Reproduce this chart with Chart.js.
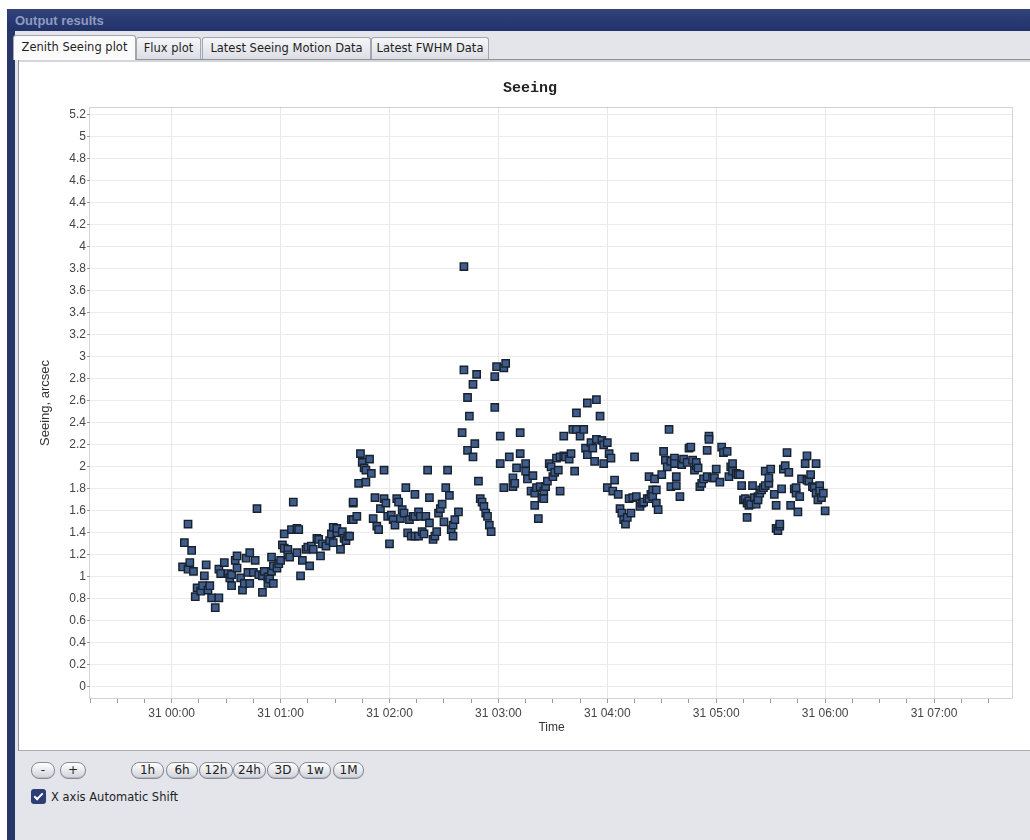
<!DOCTYPE html>
<html>
<head>
<meta charset="utf-8">
<title>Output results</title>
<script src="https://cdn.jsdelivr.net/npm/chart.js@4.4.0/dist/chart.umd.min.js"></script>
<style>
  html, body { margin: 0; padding: 0; width: 1030px; height: 840px; overflow: hidden; background: #ffffff; font-family: 'DejaVu Sans', sans-serif; }
  #frame { position: absolute; left: 7px; top: 9px; width: 1023px; height: 831px; background: #27376a; }
  #titlebar { position: absolute; left: 7px; top: 9px; width: 1023px; height: 22px; background: linear-gradient(#31437a, #22326a); }
  #caption { position: absolute; left: 15px; top: 13px; font: bold 13px 'Liberation Sans', sans-serif; color: #8f9bbf; }
  #inner { position: absolute; left: 15px; top: 31px; width: 1015px; height: 809px; background: #e3e5eb; }
  .tab { position: absolute; top: 37px; height: 21px; border: 1px solid #a3a6ae; border-bottom: none; border-radius: 3px 3px 0 0; background: linear-gradient(#f5f6f9, #dcdee5); font-size: 11.5px; line-height: 21px; text-align: center; color: #1e1e1e; white-space: nowrap; }
  .tab.active { top: 35px; height: 24px; line-height: 23px; background: #fbfbfc; z-index: 2; }
  #panel { position: absolute; left: 18px; top: 59px; width: 1012px; height: 690px; background: #ffffff; border-top: 1px solid #8e9199; border-left: 1px solid #8e9199; border-bottom: 1px solid #a9acb3; box-shadow: inset 0 2px 0 #d4d6dc; }
  #chart { position: absolute; left: 20px; top: 62px; z-index: 3; }
  .btn { position: absolute; top: 762px; height: 15px; border: 1px solid #878a93; border-radius: 8px; background: linear-gradient(#ffffff, #cfd2d9); box-shadow: inset 0 -1px 0 #b9bcc4; font-size: 12px; line-height: 15px; text-align: center; color: #222; }
  #check { position: absolute; left: 31px; top: 789px; width: 15px; height: 15px; background: #2c3e74; border-radius: 3px; }
  #check::after { content: ''; position: absolute; left: 5px; top: 2px; width: 3px; height: 7px; border: solid #ffffff; border-width: 0 2px 2px 0; transform: rotate(45deg); }
  #checkLabel { position: absolute; left: 51px; top: 789px; font-size: 11.5px; line-height: 16px; color: #1e1e1e; }
</style>
</head>
<body>
<div id="frame"></div>
<div id="titlebar"></div>
<div id="caption">Output results</div>
<div id="inner"></div>
<div class="tab active" style="left:13px;width:121px;">Zenith Seeing plot</div>
<div class="tab" style="left:136px;width:63px;">Flux plot</div>
<div class="tab" style="left:202px;width:167px;">Latest Seeing Motion Data</div>
<div class="tab" style="left:371px;width:116px;">Latest FWHM Data</div>
<div id="panel"></div>
<canvas id="chart" width="1020" height="686"></canvas>

<div class="btn" style="left:31px;width:22px;">-</div>
<div class="btn" style="left:60px;width:24px;">+</div>
<div class="btn" style="left:131px;width:31px;">1h</div>
<div class="btn" style="left:166px;width:30px;">6h</div>
<div class="btn" style="left:199px;width:32px;">12h</div>
<div class="btn" style="left:233px;width:31px;">24h</div>
<div class="btn" style="left:267px;width:30px;">3D</div>
<div class="btn" style="left:299px;width:30px;">1w</div>
<div class="btn" style="left:333px;width:29px;">1M</div>
<div id="check"></div>
<div id="checkLabel">X axis Automatic Shift</div>

<script>
// Day shown in front of every time tick
const dayOfMonth = '31';

// Hour tick labels along the time axis
const hourTicks = ['00:00', '01:00', '02:00', '03:00', '04:00', '05:00', '06:00', '07:00'];

// Seeing tick values (arcsec)
const seeingTicks = [0, 0.2, 0.4, 0.6, 0.8, 1, 1.2, 1.4, 1.6, 1.8, 2, 2.2, 2.4, 2.6, 2.8, 3, 3.2, 3.4, 3.6, 3.8, 4, 4.2, 4.4, 4.6, 4.8, 5, 5.2];

// Sample times (HH:MM on the 31st)
const sampleTimes = [
  '00:06','00:07','00:09','00:09','00:10','00:11','00:12','00:13','00:14','00:16',
  '00:17','00:18','00:19','00:20','00:21','00:22','00:24','00:26','00:26','00:27',
  '00:29','00:31','00:32','00:33','00:33','00:35','00:36','00:36','00:38','00:39',
  '00:40','00:41','00:42','00:43','00:43','00:45','00:46','00:47','00:48','00:50',
  '00:50','00:51','00:53','00:53','00:54','00:55','00:55','00:56','00:56','00:58',
  '00:59','01:00','01:01','01:02','01:02','01:04','01:04','01:05','01:06','01:07',
  '01:09','01:09','01:10','01:11','01:12','01:14','01:15','01:16','01:17','01:18',
  '01:20','01:21','01:22','01:23','01:25','01:27','01:28','01:29','01:29','01:31',
  '01:31','01:33','01:34','01:35','01:36','01:37','01:38','01:39','01:40','01:40',
  '01:40','01:42','01:43','01:44','01:45','01:46','01:47','01:47','01:49','01:50',
  '01:51','01:52','01:53','01:54','01:55','01:57','01:57','01:58','01:59','02:00',
  '02:01','02:02','02:03','02:04','02:05','02:06','02:07','02:08','02:09','02:10',
  '02:11','02:12','02:13','02:14','02:14','02:14','02:16','02:16','02:17','02:18',
  '02:19','02:20','02:21','02:22','02:22','02:24','02:25','02:26','02:27','02:28',
  '02:29','02:30','02:31','02:32','02:33','02:34','02:35','02:35','02:36','02:38',
  '02:40','02:41','02:41','02:43','02:43','02:44','02:46','02:46','02:47','02:48',
  '02:49','02:50','02:51','02:52','02:53','02:54','02:55','02:56','02:58','02:58',
  '02:59','03:01','03:01','03:03','03:03','03:04','03:06','03:08','03:08','03:09',
  '03:10','03:12','03:12','03:15','03:15','03:16','03:18','03:19','03:20','03:20',
  '03:21','03:22','03:23','03:24','03:25','03:25','03:26','03:27','03:28','03:29',
  '03:30','03:31','03:32','03:33','03:34','03:34','03:36','03:36','03:37','03:39',
  '03:40','03:41','03:42','03:43','03:43','03:45','03:47','03:48','03:49','03:49',
  '03:51','03:52','03:53','03:54','03:54','03:56','03:57','03:58','03:58','04:00',
  '04:00','04:01','04:02','04:03','04:04','04:06','04:07','04:08','04:09','04:10',
  '04:11','04:12','04:13','04:14','04:15','04:16','04:18','04:19','04:20','04:22',
  '04:23','04:23','04:24','04:25','04:25','04:26','04:27','04:27','04:28','04:30',
  '04:31','04:32','04:33','04:34','04:35','04:35','04:37','04:37','04:37','04:38',
  '04:38','04:40','04:41','04:42','04:44','04:45','04:46','04:47','04:48','04:49',
  '04:49','04:50','04:51','04:52','04:53','04:55','04:55','04:56','04:56','04:58',
  '04:59','05:00','05:02','05:03','05:04','05:06','05:07','05:08','05:09','05:09',
  '05:11','05:12','05:13','05:14','05:15','05:16','05:17','05:17','05:18','05:18',
  '05:19','05:20','05:21','05:22','05:23','05:23','05:24','05:25','05:26','05:27',
  '05:27','05:29','05:29','05:30','05:32','05:33','05:33','05:34','05:35','05:35',
  '05:36','05:37','05:38','05:39','05:40','05:41','05:43','05:44','05:44','05:45',
  '05:46','05:47','05:49','05:50','05:50','05:51','05:52','05:53','05:54','05:55',
  '05:55','05:56','05:57','05:57','05:58','05:59','06:00'
];

// Zenith seeing for each sample (arcsec)
const seeingArcsec = [
  1.09, 1.31, 1.48, 1.07, 1.13, 1.24, 1.05, 0.82, 0.90, 0.87,
  0.92, 1.01, 1.11, 0.88, 0.92, 0.81, 0.72, 0.81, 1.07, 1.03,
  1.13, 1.03, 0.99, 0.92, 1.02, 1.15, 1.19, 1.08, 0.99, 0.88,
  0.94, 1.17, 1.04, 0.94, 1.22, 1.04, 1.15, 1.62, 1.02, 0.86,
  1.01, 1.05, 1.00, 0.94, 0.98, 1.18, 1.05, 0.94, 1.10, 1.08,
  1.12, 1.15, 1.29, 1.39, 1.26, 1.25, 1.20, 1.18, 1.43, 1.68,
  1.44, 1.22, 1.43, 1.01, 1.15, 1.25, 1.27, 1.10, 1.28, 1.25,
  1.35, 1.34, 1.19, 1.30, 1.28, 1.33, 1.39, 1.45, 1.31, 1.40,
  1.44, 1.25, 1.41, 1.35, 1.33, 1.37, 1.37, 1.52, 1.67, 1.68,
  1.52, 1.55, 1.85, 2.12, 2.04, 1.99, 1.86, 1.97, 2.07, 1.94,
  1.53, 1.72, 1.46, 1.43, 1.62, 1.97, 1.71, 1.67, 1.55, 1.30,
  1.56, 1.52, 1.47, 1.71, 1.68, 1.53, 1.61, 1.58, 1.81, 1.40,
  1.52, 1.37, 1.55, 1.37, 1.55, 1.75, 1.37, 1.59, 1.55, 1.41,
  1.39, 1.55, 1.97, 1.49, 1.72, 1.34, 1.37, 1.41, 1.58, 1.62,
  1.66, 1.50, 1.81, 1.97, 1.74, 1.43, 1.37, 1.47, 1.52, 1.59,
  2.31, 2.88, 3.82, 2.63, 2.15, 2.46, 2.75, 2.09, 2.21, 2.84,
  1.87, 1.71, 1.68, 1.64, 1.58, 1.55, 1.47, 1.41, 2.54, 2.82,
  2.91, 2.28, 2.03, 2.90, 1.81, 2.94, 2.09, 1.90, 1.82, 1.85,
  1.99, 2.31, 2.12, 2.03, 1.96, 1.89, 1.78, 1.92, 1.76, 1.65,
  1.81, 1.53, 1.82, 1.72, 1.78, 1.71, 1.82, 1.87, 2.03, 2.00,
  1.91, 1.95, 2.08, 1.97, 1.78, 2.09, 2.10, 2.28, 2.09, 2.07,
  2.12, 2.34, 1.96, 2.49, 2.34, 2.28, 2.34, 2.17, 2.58, 2.11,
  2.22, 2.17, 2.05, 2.61, 2.25, 2.46, 2.24, 2.20, 2.03, 2.22,
  1.81, 2.12, 2.08, 1.78, 1.88, 1.75, 1.62, 1.58, 1.52, 1.48,
  1.54, 1.71, 1.58, 1.72, 2.09, 1.73, 1.64, 1.67, 1.68, 1.71,
  1.71, 1.91, 1.75, 1.79, 1.73, 1.89, 1.79, 1.67, 1.61, 1.93,
  2.14, 2.06, 2.00, 2.34, 2.05, 1.82, 2.06, 2.08, 2.03, 1.91,
  1.83, 1.73, 2.02, 2.07, 2.04, 2.17, 2.18, 2.06, 1.97, 2.01,
  2.04, 1.99, 1.82, 1.85, 1.89, 1.91, 2.15, 2.28, 2.25, 1.90,
  1.90, 1.98, 1.86, 2.18, 2.13, 2.14, 1.91, 2.00, 2.03, 1.96,
  1.94, 1.93, 1.93, 1.83, 1.70, 1.71, 1.67, 1.54, 1.65, 1.69,
  1.66, 1.83, 1.72, 1.66, 1.73, 1.70, 1.76, 1.79, 1.81, 1.83,
  1.96, 1.85, 1.90, 1.98, 1.75, 1.65, 1.44, 1.42, 1.46, 1.48,
  1.80, 1.98, 2.01, 2.13, 1.95, 1.65, 1.80, 1.76, 1.81, 1.59,
  1.73, 1.89, 2.03, 2.10, 1.88, 1.87, 1.93, 1.82, 1.81, 2.03,
  1.76, 1.70, 1.83, 1.78, 1.72, 1.76, 1.60
];

// Visible time window, minutes from 00:00
const timeMin = -45;
const timeMax = 463.5;
const minorStep = 15;

const toMinutes = s => {
  const [h, m] = s.split(':').map(Number);
  return h * 60 + m;
};

const count = Math.min(sampleTimes.length, seeingArcsec.length);
const points = [];
for (let i = 0; i < count; i++) {
  points.push({ x: toMinutes(sampleTimes[i]), y: seeingArcsec[i] });
}

const hourLabelAt = v => {
  const idx = hourTicks.findIndex(t => toMinutes(t) === v);
  return idx >= 0 ? dayOfMonth + ' ' + hourTicks[idx] : '';
};

// Dotted outline around the plotting area
const plotFrame = {
  id: 'plotFrame',
  beforeDatasetsDraw(chart) {
    const { ctx, chartArea: a } = chart;
    ctx.save();
    ctx.strokeStyle = '#a8a8a8';
    ctx.lineWidth = 1;
    ctx.setLineDash([1, 1]);
    ctx.strokeRect(Math.round(a.left) - 0.5, Math.round(a.top) + 0.5,
                   Math.round(a.right - a.left), Math.round(a.bottom - a.top) - 1);
    ctx.restore();
  }
};

Chart.defaults.font.family = "'Liberation Sans', Arial, sans-serif";
Chart.defaults.color = '#444444';

new Chart(document.getElementById('chart'), {
  type: 'scatter',
  data: {
    datasets: [{
      label: 'Seeing',
      data: points,
      pointStyle: 'rect',
      pointRadius: 5.2,
      pointBorderWidth: 1.4,
      backgroundColor: '#3f5c8a',
      borderColor: '#18222f'
    }]
  },
  options: {
    responsive: false,
    animation: false,
    devicePixelRatio: 1,
    events: [],
    layout: { padding: 0 },
    plugins: {
      legend: { display: false },
      tooltip: { enabled: false },
      title: {
        display: true,
        text: 'Seeing',
        color: '#222222',
        font: { family: "'Liberation Mono', 'DejaVu Sans Mono', monospace", size: 15, weight: 'bold', lineHeight: 1.2 },
        padding: { top: 17, bottom: 10 }
      }
    },
    scales: {
      x: {
        type: 'linear',
        position: 'bottom',
        min: timeMin,
        max: timeMax,
        afterBuildTicks(axis) {
          const ticks = [];
          for (let v = timeMin; v <= timeMax; v += minorStep) ticks.push({ value: v });
          axis.ticks = ticks;
        },
        afterFit(axis) { axis.height = 49; },
        border: { display: false },
        grid: {
          color: c => (c.tick && c.tick.value % 60 === 0) ? '#e8e8e8' : 'rgba(0,0,0,0)',
          tickColor: '#9a9a9a',
          tickLength: 4,
          drawTicks: true
        },
        ticks: {
          autoSkip: false,
          maxRotation: 0,
          padding: 3,
          color: '#444444',
          font: { size: 12 },
          callback: v => hourLabelAt(v)
        },
        title: {
          display: true,
          text: 'Time',
          color: '#333333',
          font: { size: 12 },
          padding: { top: 0, bottom: 13 }
        }
      },
      y: {
        type: 'linear',
        position: 'left',
        min: -0.11,
        max: 5.27,
        afterBuildTicks(axis) {
          axis.ticks = seeingTicks.map(v => ({ value: v }));
        },
        afterFit(axis) { axis.width = 70; },
        border: { display: false },
        grid: {
          color: '#ebebeb',
          tickColor: '#9a9a9a',
          tickLength: 3
        },
        ticks: {
          autoSkip: false,
          padding: 1,
          color: '#444444',
          font: { size: 12 },
          callback: v => String(Math.round(v * 10) / 10)
        },
        title: {
          display: true,
          text: 'Seeing, arcsec',
          color: '#333333',
          font: { size: 13 },
          padding: { top: 18, bottom: 0 }
        }
      },
      edge: {
        type: 'linear',
        position: 'right',
        min: 0,
        max: 1,
        afterFit(axis) { axis.width = 27; },
        border: { display: false },
        grid: { display: false, drawTicks: false },
        ticks: { display: false },
        title: { display: false }
      }
    }
  },
  plugins: [plotFrame]
});
</script>
</body>
</html>
